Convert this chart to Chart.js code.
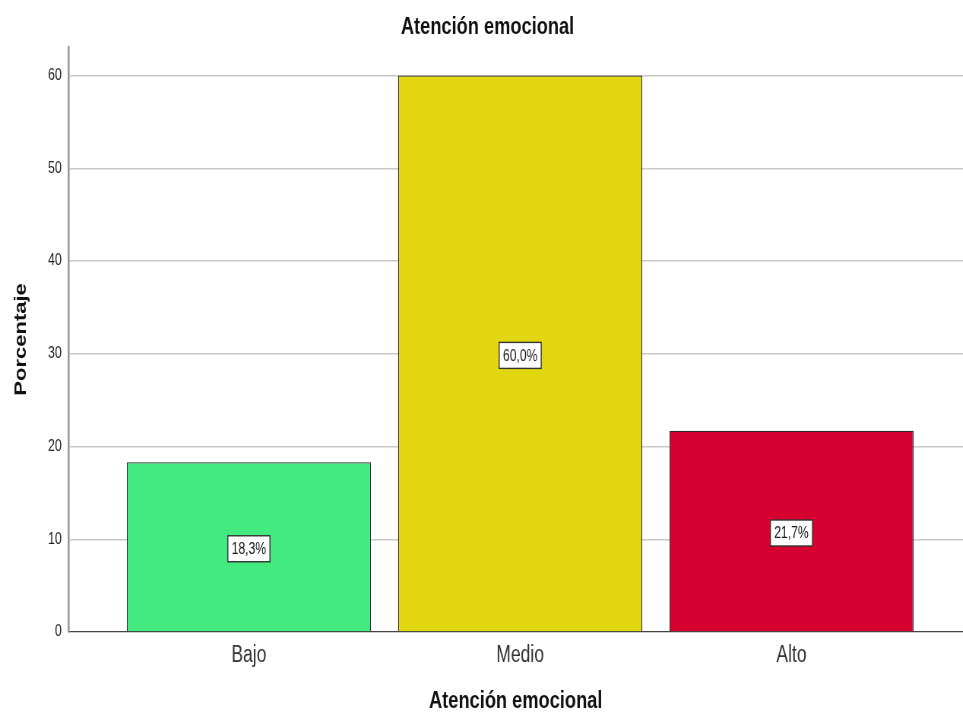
<!DOCTYPE html>
<html>
<head>
<meta charset="utf-8">
<script src="https://cdn.jsdelivr.net/npm/chart.js@4"></script>
<style>
  html, body { margin: 0; padding: 0; background: #ffffff; overflow: hidden; }
  #wrap { width: 963px; height: 712px; overflow: hidden; position: relative; }
  #c { position: absolute; left: 0; top: 0; width: 1267px; height: 712px;
       transform: scaleX(0.76); transform-origin: 0 0; }
</style>
</head>
<body>
<div id="wrap"><canvas id="c" width="1267" height="712"></canvas></div>
<script>
// ---- data ----
const chartTitle = 'Atención emocional';
const xTitle = 'Atención emocional';
const yTitle = 'Porcentaje';
const categories = ['Bajo', 'Medio', 'Alto'];
const percentages = [18.3, 60.0, 21.7];
const barColors = ['#43EA7F', '#E2D70E', '#D50030'];
const yTickValues = [0, 10, 20, 30, 40, 50, 60];

const FONT = "'Liberation Sans', Arial, Helvetica, sans-serif";

const labelPlugin = {
  id: 'barLabels',
  afterDatasetsDraw(chart) {
    const ctx = chart.ctx;
    const meta = chart.getDatasetMeta(0);
    ctx.save();
    ctx.font = '16px ' + FONT;
    ctx.textAlign = 'center';
    ctx.textBaseline = 'middle';
    meta.data.forEach((bar, i) => {
      const txt = percentages[i].toFixed(1).replace('.', ',') + '%';
      const cx = bar.x;
      const cy = (bar.y + bar.base) / 2 + 2;
      const w = ctx.measureText(txt).width + 10;
      const h = 26;
      ctx.fillStyle = '#ffffff';
      ctx.fillRect(cx - w / 2, cy - h / 2, w, h);
      ctx.lineWidth = 1.4;
      ctx.strokeStyle = '#333333';
      ctx.strokeRect(cx - w / 2, cy - h / 2, w, h);
      ctx.fillStyle = '#1a1a1a';
      ctx.fillText(txt, cx, cy + 1);
    });
    ctx.restore();
  }
};

new Chart(document.getElementById('c'), {
  type: 'bar',
  data: {
    datasets: [{
      data: categories.map((c, i) => ({ x: i + 1, y: percentages[i] })),
      backgroundColor: barColors,
      borderColor: '#2a2a2a',
      borderWidth: 1.3,
      barPercentage: 0.9,
      categoryPercentage: 1.0
    }]
  },
  plugins: [labelPlugin],
  options: {
    responsive: false,
    animation: false,
    devicePixelRatio: 1,
    layout: { padding: { left: 16, right: 0, top: 0, bottom: 0 } },
    plugins: {
      legend: { display: false },
      tooltip: { enabled: false },
      title: {
        display: true,
        text: chartTitle,
        color: '#111111',
        font: { family: FONT, size: 24, weight: 'bold', lineHeight: 1.2 },
        padding: { top: 13, bottom: 5 }
      }
    },
    scales: {
      x: {
        type: 'linear',
        offset: false,
        min: 0.335,
        max: 3.632,
        afterBuildTicks(scale) {
          scale.ticks = categories.map((c, i) => ({ value: i + 1 }));
        },
        afterFit(scale) { scale.height = 80; },
        grid: { display: false, drawTicks: false, offset: false },
        border: { display: true, color: '#444444', width: 1.2 },
        ticks: {
          autoSkip: false,
          maxRotation: 0,
          padding: 10,
          color: '#333333',
          font: { family: FONT, size: 23 },
          callback: (v) => categories[Math.round(v) - 1] || ''
        },
        title: {
          display: true,
          text: xTitle,
          color: '#111111',
          font: { family: FONT, size: 24, weight: 'bold', lineHeight: 0.9 },
          padding: { top: 0, bottom: 0 }
        }
      },
      y: {
        type: 'linear',
        min: 0,
        max: 63.1,
        afterBuildTicks(scale) {
          scale.ticks = yTickValues.map(v => ({ value: v }));
        },
        afterFit(scale) { scale.width = 74.1; },
        grid: {
          drawTicks: false,
          color: (c) => (c.tick && c.tick.value === 0) ? 'rgba(0,0,0,0)' : '#c8c8c8',
          lineWidth: 1.5
        },
        border: { display: true, color: '#9a9a9a', width: 2.6 },
        ticks: {
          padding: 9,
          color: '#222222',
          font: { family: FONT, size: 16 }
        },
        title: {
          display: true,
          text: yTitle,
          color: '#111111',
          font: { family: FONT, size: 22, weight: 'bold', lineHeight: 1.1 },
          padding: { top: 0, bottom: 0 }
        }
      }
    }
  }
});
</script>
</body>
</html>
